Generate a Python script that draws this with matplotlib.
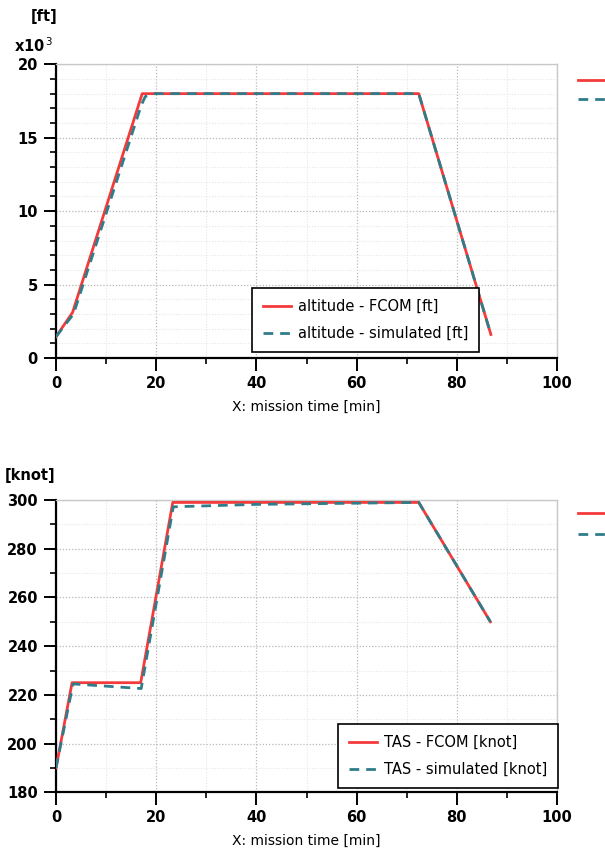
import matplotlib.pyplot as plt
from matplotlib.lines import Line2D
from matplotlib.ticker import MultipleLocator

# altitude [x10^3 ft] vs mission time [min]
alt_fcom_t = [0.0, 3.3, 17.2, 72.4, 86.8]
alt_fcom = [1.45, 3.1, 18.0, 18.0, 1.6]
alt_sim_t = [0.0, 3.5, 17.0, 17.8, 19.5, 72.4, 86.8]
alt_sim = [1.45, 3.0, 17.2, 17.8, 18.0, 18.0, 1.6]

# true air speed [knot] vs mission time [min]
tas_fcom_t = [0.0, 3.2, 16.9, 23.3, 72.4, 86.7]
tas_fcom = [190, 225, 225, 299, 299, 250]
tas_sim_t = [0.0, 3.4, 17.0, 23.4, 40.0, 72.4, 86.7]
tas_sim = [190, 224.5, 222.6, 297.2, 298.2, 299, 250]

RED = "#f43a3a"
TEAL = "#2f7d8a"
DASH = (0, (3.5, 2.5))

plt.rcParams["font.family"] = "DejaVu Sans"

fig = plt.figure(figsize=(6.05, 8.56), dpi=100)


def style_axes(ax, ymin, ymax, ymajor, yminor):
    ax.set_xlim(0, 100)
    ax.set_ylim(ymin, ymax)
    ax.xaxis.set_major_locator(MultipleLocator(20))
    ax.xaxis.set_minor_locator(MultipleLocator(10))
    ax.yaxis.set_major_locator(MultipleLocator(ymajor))
    ax.yaxis.set_minor_locator(MultipleLocator(yminor))
    ax.grid(which="major", color="#b8b8b8", linestyle=(0, (1, 1.5)), linewidth=0.9)
    ax.grid(which="minor", color="#e6e6e6", linestyle=(0, (1, 1.5)), linewidth=0.8)
    ax.set_axisbelow(True)
    for side in ("top", "right"):
        ax.spines[side].set_color("#c8c8c8")
        ax.spines[side].set_linewidth(1.0)
    for side in ("left", "bottom"):
        ax.spines[side].set_color("black")
        ax.spines[side].set_linewidth(1.6)
    ax.tick_params(which="major", direction="out", length=9, width=1.4, pad=4)
    ax.tick_params(which="minor", direction="out", length=4, width=1.2)
    for lbl in ax.get_xticklabels() + ax.get_yticklabels():
        lbl.set_fontweight("bold")
        lbl.set_fontsize(10.5)
    ax.set_xlabel("X: mission time [min]", fontsize=10, labelpad=6)


def add_legend(ax, bbox):
    leg = ax.legend(loc="lower left", bbox_to_anchor=bbox, borderaxespad=0,
                    fontsize=10.5, frameon=True, fancybox=False, framealpha=1,
                    edgecolor="black", handlelength=1.9, handletextpad=0.5,
                    borderpad=0.75, labelspacing=0.85)
    leg.get_frame().set_linewidth(1.2)
    leg.set_zorder(5)
    return leg


def add_cut_legend(y_red, y_teal):
    # legend entries clipped at the right edge of the figure
    fig.add_artist(Line2D([0.955, 1.0], [y_red, y_red], color=RED, linewidth=2,
                          transform=fig.transFigure))
    fig.add_artist(Line2D([0.955, 1.0], [y_teal, y_teal], color=TEAL, linewidth=2,
                          linestyle=DASH, transform=fig.transFigure))


# ---- altitude ----
ax1 = fig.add_axes([0.0926, 0.5818, 0.8281, 0.3431])
ax1.plot(alt_fcom_t, alt_fcom, color=RED, linewidth=2, label="altitude - FCOM [ft]", zorder=3)
ax1.plot(alt_sim_t, alt_sim, color=TEAL, linewidth=2, linestyle=DASH,
         label="altitude - simulated [ft]", zorder=4)
style_axes(ax1, 0, 20, 5, 1)
add_legend(ax1, (0.391, 0.02))
fig.text(0.05, 0.981, "[ft]", fontsize=10.5, fontweight="bold", va="center")
fig.text(0.023, 0.947, r"x10$^{\,3}$", fontsize=10.5, fontweight="bold", va="center")
add_cut_legend(1 - 80 / 856, 1 - 99 / 856)

# ---- true air speed ----
ax2 = fig.add_axes([0.0926, 0.0744, 0.8281, 0.3415])
ax2.plot(tas_fcom_t, tas_fcom, color=RED, linewidth=2, label="TAS - FCOM [knot]", zorder=3)
ax2.plot(tas_sim_t, tas_sim, color=TEAL, linewidth=2, linestyle=DASH,
         label="TAS - simulated [knot]", zorder=4)
style_axes(ax2, 180, 300, 20, 10)
add_legend(ax2, (0.563, 0.014))
fig.text(0.008, 0.445, "[knot]", fontsize=10.5, fontweight="bold", va="center")
add_cut_legend(1 - 513 / 856, 1 - 534 / 856)

fig.savefig("out.png", dpi=100)
